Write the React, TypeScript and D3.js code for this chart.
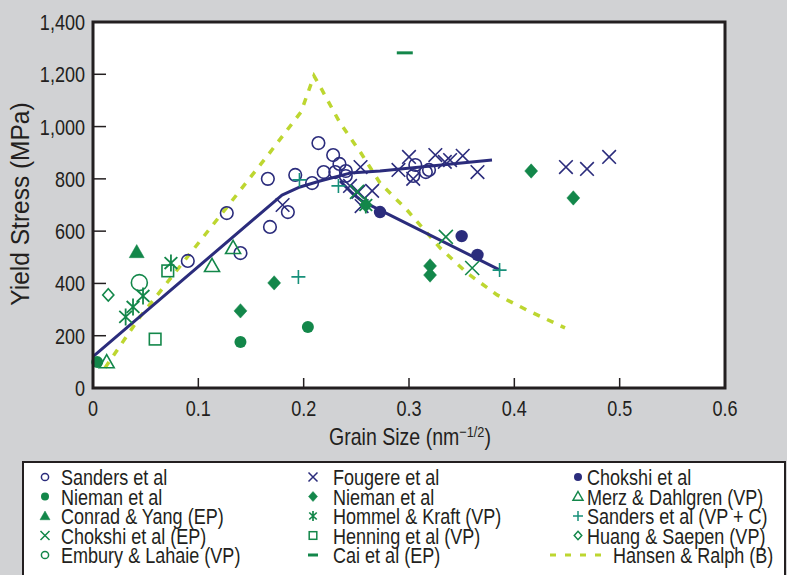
import React from "react";
import * as d3 from "d3";

// ---- data: grain size (nm^-1/2) vs yield stress (MPa) ----
type Pt = [number, number];

const sandersEtAl: Pt[] = [
  [0.090, 486], [0.127, 669], [0.140, 516], [0.168, 616], [0.166, 800],
  [0.185, 673], [0.192, 815], [0.208, 784], [0.214, 937], [0.219, 826],
  [0.228, 891], [0.234, 857], [0.230, 826], [0.240, 830], [0.240, 811],
  [0.306, 853], [0.304, 811], [0.316, 826], [0.319, 834],
];
const fougereEtAl: Pt[] = [
  [0.180, 700], [0.244, 773], [0.254, 845], [0.252, 750], [0.265, 754],
  [0.255, 696], [0.290, 834], [0.300, 884], [0.304, 800], [0.325, 891],
  [0.334, 865], [0.339, 872], [0.351, 888], [0.365, 826], [0.449, 845],
  [0.469, 838], [0.490, 884],
];
const chokshiEtAl: Pt[] = [[0.2725, 673], [0.350, 581], [0.365, 509]];
const niemanCircles: Pt[] = [[0.004, 99], [0.140, 176], [0.204, 233]];
const niemanDiamonds: Pt[] = [
  [0.140, 295], [0.172, 402], [0.259, 700], [0.320, 467], [0.320, 432],
  [0.416, 830], [0.456, 727],
];
const conradYang: Pt[] = [[0.0415, 520]];
const merzDahlgren: Pt[] = [[0.013, 99], [0.113, 467], [0.133, 536]];
const hommelKraft: Pt[] = [[0.031, 272], [0.038, 310], [0.0475, 352], [0.074, 478], [0.259, 700]];
const chokshiEP: Pt[] = [[0.2506, 750], [0.335, 578], [0.360, 459]];
const sandersVPC: Pt[] = [[0.196, 796], [0.195, 425], [0.233, 773], [0.386, 451]];
const henningEtAl: Pt[] = [[0.071, 448], [0.059, 187]];
const huangSaepen: Pt[] = [[0.0145, 356]];
const emburyLahaie: Pt[] = [[0.044, 403]];
const caiEtAl: Pt[] = [[0.296, 1282]];

const hansenRalph: Pt[] = [
  [0.0114, 77], [0.0446, 272], [0.0949, 528], [0.1272, 692], [0.1661, 891],
  [0.1975, 1056], [0.2098, 1194], [0.2174, 1140], [0.2345, 1014], [0.2544, 899],
  [0.2725, 784], [0.2981, 681], [0.3294, 536], [0.3551, 440], [0.3836, 356],
  [0.412, 298], [0.4481, 230],
];
const fitRising: Pt[] = [
  [0, 120], [0.1794, 738], [0.1965, 769], [0.2155, 792], [0.244, 822],
  [0.2725, 830], [0.3788, 872],
];
const fitFalling: Pt[] = [[0.2345, 792], [0.2459, 746], [0.2554, 715], [0.3864, 451]];

const xTicks = [0, 0.1, 0.2, 0.3, 0.4, 0.5, 0.6];
const xTickLabels = ["0", "0.1", "0.2", "0.3", "0.4", "0.5", "0.6"];
const yTicks = [0, 200, 400, 600, 800, 1000, 1200, 1400];
const yTickLabels = ["0", "200", "400", "600", "800", "1,000", "1,200", "1,400"];

// ---- styling ----
const NAVY = "#2b2c7c";
const GREEN = "#13874a";
const TEAL = "#17907a";
const LIME = "#bdd630";
const INK = "#231f20";
const BG = "#d1d2d4";
const FONT = "'Liberation Sans', Arial, sans-serif";
const NARROW = 0.82;

type Shape =
  | "circle" | "dot" | "cross" | "diamond" | "diamondOpen" | "triangle"
  | "triangleOpen" | "asterisk" | "square" | "plus" | "dash";

interface SeriesStyle { shape: Shape; color: string; size: number; legendSize: number; }

const series: { data: Pt[]; style: SeriesStyle }[] = [
  { data: sandersEtAl, style: { shape: "circle", color: NAVY, size: 6.3, legendSize: 3.6 } },
  { data: fougereEtAl, style: { shape: "cross", color: NAVY, size: 6.8, legendSize: 4.5 } },
  { data: niemanCircles, style: { shape: "dot", color: GREEN, size: 6, legendSize: 4 } },
  { data: niemanDiamonds, style: { shape: "diamond", color: GREEN, size: 7.2, legendSize: 5 } },
  { data: conradYang, style: { shape: "triangle", color: GREEN, size: 7.5, legendSize: 5 } },
  { data: merzDahlgren, style: { shape: "triangleOpen", color: GREEN, size: 7.5, legendSize: 5 } },
  { data: hommelKraft, style: { shape: "asterisk", color: GREEN, size: 8.5, legendSize: 5 } },
  { data: chokshiEP, style: { shape: "cross", color: GREEN, size: 7, legendSize: 4.5 } },
  { data: sandersVPC, style: { shape: "plus", color: TEAL, size: 7, legendSize: 5 } },
  { data: henningEtAl, style: { shape: "square", color: GREEN, size: 5.8, legendSize: 3.8 } },
  { data: huangSaepen, style: { shape: "diamondOpen", color: GREEN, size: 6.2, legendSize: 4.2 } },
  { data: emburyLahaie, style: { shape: "circle", color: GREEN, size: 8, legendSize: 3.6 } },
  { data: caiEtAl, style: { shape: "dash", color: GREEN, size: 8, legendSize: 5 } },
  { data: chokshiEtAl, style: { shape: "dot", color: NAVY, size: 6.2, legendSize: 4 } },
];

// legend layout: [column, row, label, style index]
const legendEntries: [number, number, string, number][] = [
  [0, 0, "Sanders et al", 0],
  [0, 1, "Nieman et al", 2],
  [0, 2, "Conrad & Yang (EP)", 4],
  [0, 3, "Chokshi et al (EP)", 7],
  [0, 4, "Embury & Lahaie (VP)", 11],
  [1, 0, "Fougere et al", 1],
  [1, 1, "Nieman et al", 3],
  [1, 2, "Hommel & Kraft (VP)", 6],
  [1, 3, "Henning et al (VP)", 9],
  [1, 4, "Cai et al (EP)", 12],
  [2, 0, "Chokshi et al", 13],
  [2, 1, "Merz & Dahlgren (VP)", 5],
  [2, 2, "Sanders et al (VP + C)", 8],
  [2, 3, "Huang & Saepen (VP)", 10],
];

function Marker({ shape, x, y, s, color, sw = 1.6 }: {
  shape: Shape; x: number; y: number; s: number; color: string; sw?: number;
}) {
  const t = `translate(${x},${y})`;
  switch (shape) {
    case "circle":
      return <circle cx={x} cy={y} r={s} fill="none" stroke={color} strokeWidth={sw} />;
    case "dot":
      return <circle cx={x} cy={y} r={s} fill={color} />;
    case "cross":
      return <path transform={t} d={`M${-s},${-s}L${s},${s}M${-s},${s}L${s},${-s}`} stroke={color} strokeWidth={sw} fill="none" />;
    case "plus":
      return <path transform={t} d={`M${-s},0H${s}M0,${-s}V${s}`} stroke={color} strokeWidth={sw} fill="none" />;
    case "diamond":
    case "diamondOpen":
      return <path transform={t} d={`M0,${-s}L${s * 0.9},0L0,${s}L${-s * 0.9},0Z`}
        fill={shape === "diamond" ? color : "none"} stroke={color} strokeWidth={shape === "diamond" ? 0.5 : sw} />;
    case "triangle":
    case "triangleOpen":
      return <path transform={t} d={`M0,${-s}L${s},${s * 0.75}L${-s},${s * 0.75}Z`}
        fill={shape === "triangle" ? color : "none"} stroke={color} strokeWidth={shape === "triangle" ? 0.5 : sw} />;
    case "square":
      return <rect x={x - s} y={y - s} width={2 * s} height={2 * s} fill="none" stroke={color} strokeWidth={sw} />;
    case "asterisk": {
      const a = s * 0.75, b = s * 0.7;
      return <path transform={t} d={`M0,${-s}V${s}M${-a},${-b}L${a},${b}M${-a},${b}L${a},${-b}`} stroke={color} strokeWidth={sw + 0.2} fill="none" />;
    }
    case "dash":
      return <path transform={t} d={`M${-s},0H${s}`} stroke={color} strokeWidth={3} fill="none" />;
  }
}

function NText({ x, y, size, anchor = "start", children, rotate = 0, sx = NARROW }: {
  x: number; y: number; size: number; anchor?: string; children: React.ReactNode; rotate?: number; sx?: number;
}) {
  return (
    <text
      transform={`translate(${x},${y}) rotate(${rotate}) scale(${sx},1)`}
      fontFamily={FONT} fontSize={size} fill={INK} textAnchor={anchor as any}
    >
      {children}
    </text>
  );
}

export default function App() {
  const W = 787, H = 575;
  const left = 93, right = 725, top = 22, bottom = 388;
  const x = d3.scaleLinear().domain([0, 0.6]).range([left, right]);
  const y = d3.scaleLinear().domain([0, 1400]).range([bottom, top]);
  const line = d3.line<Pt>().x((d) => x(d[0])).y((d) => y(d[1]));

  const legTop = 477, legStep = 19.5;
  const colMarker = [45, 313, 578];
  const colText = [61, 333, 587];

  return (
    <svg width={W} height={H} style={{ position: "absolute", left: 0, top: 0 }}>
      <rect width={W} height={H} fill={BG} />

      {/* plot frame */}
      <rect x={left} y={top} width={right - left} height={bottom - top} fill="#fff" />

      {/* ticks */}
      {yTicks.slice(1, -1).map((v) => (
        <line key={"yt" + v} x1={left} x2={left + 13} y1={y(v)} y2={y(v)} stroke={INK} strokeWidth={1.5} />
      ))}
      {xTicks.slice(1, -1).map((v) => (
        <line key={"xt" + v} x1={x(v)} x2={x(v)} y1={bottom} y2={bottom - 10} stroke={INK} strokeWidth={1.5} />
      ))}

      {/* Hansen & Ralph model */}
      <path d={line(hansenRalph) || ""} fill="none" stroke={LIME} strokeWidth={3.5} strokeDasharray="7,8" />

      {/* fitted trends */}
      <path d={line(fitRising) || ""} fill="none" stroke={NAVY} strokeWidth={3} strokeLinejoin="round" />
      <path d={line(fitFalling) || ""} fill="none" stroke={NAVY} strokeWidth={3} strokeLinejoin="round" />

      {/* data markers */}
      {series.map((s, i) => (
        <g key={"s" + i}>
          {s.data.map((d, j) => (
            <Marker key={j} shape={s.style.shape} x={x(d[0])} y={y(d[1])} s={s.style.size} color={s.style.color} />
          ))}
        </g>
      ))}

      <rect x={left} y={top} width={right - left} height={bottom - top} fill="none" stroke={INK} strokeWidth={3} />

      {/* tick labels */}
      {yTicks.map((v, i) => (
        <NText key={"yl" + v} x={85} y={y(v) + 8} size={22} anchor="end">{yTickLabels[i]}</NText>
      ))}
      {xTicks.map((v, i) => (
        <NText key={"xl" + v} x={x(v)} y={416} size={22} anchor="middle">{xTickLabels[i]}</NText>
      ))}

      {/* axis titles */}
      <NText x={29} y={204} size={25} anchor="middle" rotate={-90} sx={0.98}>Yield Stress (MPa)</NText>
      <NText x={410} y={445} size={23} anchor="middle" sx={0.85}>
        <tspan>Grain Size (nm</tspan>
        <tspan dy={-8} fontSize={15}>−1/2</tspan>
        <tspan dy={8}>)</tspan>
      </NText>

      {/* legend */}
      <rect x={23} y={462} width={762} height={125} fill="#fff" stroke={INK} strokeWidth={2} />
      {legendEntries.map(([c, r, label, si]) => {
        const st = series[si].style;
        const cy = legTop + r * legStep;
        return (
          <g key={label + c}>
            <Marker shape={st.shape} x={colMarker[c]} y={cy} s={st.legendSize} color={st.color} sw={1.5} />
            <NText x={colText[c]} y={cy + 8} size={22}>{label}</NText>
          </g>
        );
      })}
      <line x1={550} x2={608} y1={legTop + 4 * legStep} y2={legTop + 4 * legStep} stroke={LIME} strokeWidth={3} strokeDasharray="6,9" />
      <NText x={613} y={legTop + 4 * legStep + 8} size={22}>Hansen & Ralph (B)</NText>
    </svg>
  );
}
